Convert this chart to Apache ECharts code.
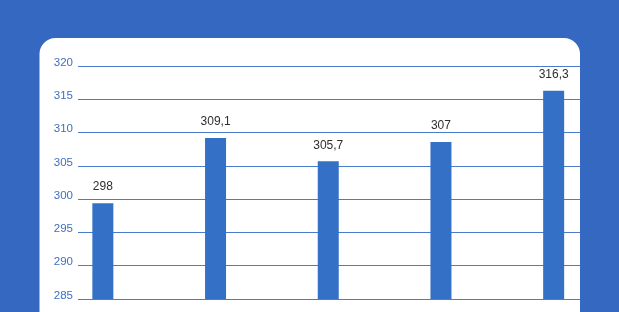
<!DOCTYPE html>
<html><head><meta charset="utf-8">
<script src="https://cdn.jsdelivr.net/npm/echarts@6/dist/echarts.min.js"></script>
<style>html,body{margin:0;padding:0;background:#3569c1}#c{width:619px;height:312px}</style>
</head><body><div id="c"></div>
<script>
const categories = ['1', '2', '3', '4', '5'];
const barValues = [299.4, 309.2, 305.7, 308.6, 316.3];
const valueLabels = ['298', '309,1', '305,7', '307', '316,3'];
const yTicks = { min: 285, max: 320, interval: 5 };

const FONT = '"Liberation Sans", Arial, sans-serif';
const chart = echarts.init(document.getElementById('c'), null, { renderer: 'canvas' });
chart.setOption({
  backgroundColor: '#3569c1',
  animation: false,
  graphic: [{
    type: 'rect', z: -10, silent: true,
    shape: { x: 39.5, y: 38, width: 540.5, height: 320, r: 16 },
    style: { fill: '#ffffff' }
  }],
  grid: [
    { left: 78, right: 39, top: 66, bottom: 13 },
    { left: 46.5, right: 9, top: 66, bottom: 13 }
  ],
  xAxis: [
    { gridIndex: 0, type: 'category', data: categories, show: false },
    { gridIndex: 1, type: 'category', data: categories, show: false }
  ],
  yAxis: [
    {
      gridIndex: 0, type: 'value', min: yTicks.min, max: yTicks.max, interval: yTicks.interval,
      axisLine: { show: false }, axisTick: { show: false },
      axisLabel: {
        margin: 5,
        formatter: '{a|{value}}',
        rich: { a: { color: '#3f6fc0', fontSize: 11.5, fontFamily: FONT, lineHeight: 12, padding: [0, 0, 7, 0] } }
      },
      splitLine: { show: true, lineStyle: { color: '#4a7cce', width: 1 } }
    },
    {
      gridIndex: 1, type: 'value', min: yTicks.min, max: yTicks.max, interval: yTicks.interval,
      show: false, splitLine: { show: false }
    }
  ],
  series: [{
    type: 'bar', xAxisIndex: 1, yAxisIndex: 1,
    data: barValues, barWidth: 21,
    itemStyle: { color: '#3470c6' },
    label: {
      show: true, position: 'top', distance: 10,
      color: '#2e2e2e', fontSize: 12, fontFamily: FONT,
      formatter: p => valueLabels[p.dataIndex]
    }
  }]
});
</script></body></html>
